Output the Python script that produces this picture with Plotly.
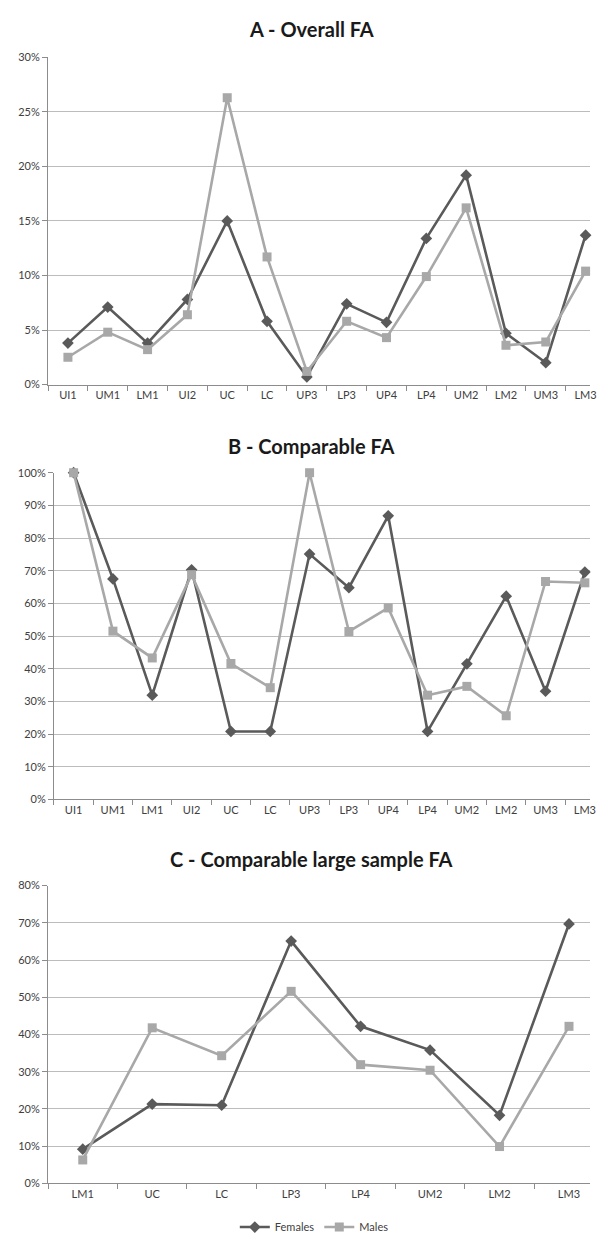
import plotly.graph_objects as go

# ---------------- data ----------------
cats_ab = ["UI1", "UM1", "LM1", "UI2", "UC", "LC", "UP3", "LP3", "UP4", "LP4", "UM2", "LM2", "UM3", "LM3"]
a_females = [0.038, 0.071, 0.038, 0.078, 0.150, 0.058, 0.007, 0.074, 0.057, 0.134, 0.192, 0.047, 0.020, 0.137]
a_males = [0.025, 0.048, 0.032, 0.064, 0.263, 0.117, 0.012, 0.058, 0.043, 0.099, 0.162, 0.036, 0.039, 0.104]

b_females = [1.00, 0.675, 0.319, 0.703, 0.208, 0.208, 0.751, 0.648, 0.868, 0.208, 0.415, 0.622, 0.331, 0.696]
b_males = [1.00, 0.515, 0.433, 0.688, 0.416, 0.342, 1.00, 0.514, 0.586, 0.319, 0.346, 0.256, 0.667, 0.663]

cats_c = ["LM1", "UC", "LC", "LP3", "LP4", "UM2", "LM2", "LM3"]
c_females = [0.092, 0.213, 0.210, 0.651, 0.422, 0.358, 0.183, 0.697]
c_males = [0.063, 0.418, 0.343, 0.516, 0.319, 0.304, 0.099, 0.422]

titles = ["A - Overall FA", "B - Comparable FA", "C - Comparable large sample FA"]
series_names = ["Females", "Males"]

# ---------------- style ----------------
PAGE_W, PAGE_H = 605, 1250
OFF = 8  # default body margin of the html page
W, H = PAGE_W - 2 * OFF, PAGE_H - 2 * OFF
FEM_COLOR = "#5a5a5a"
MAL_COLOR = "#a8a8a8"
GRID = "#bcbcbc"
AXIS = "#8c8c8c"
TXT = "#404040"
FONT = "Lato"


def px_x(px):
    return (px - OFF) / W


def px_y(px):
    return 1 - (px - OFF) / H


fig = go.Figure()

panels = [
    # (cats, females, males, y range, dtick, x0 px, spacing px, ytop px, ybot px, title y px)
    (cats_ab, a_females, a_males, [0, 0.30], 0.05, 48.5, 40.3, 51, 383, 22),
    (cats_ab, b_females, b_males, [0, 1.0], 0.10, 54.5, 39.8, 472.5, 804, 445),
    (cats_c, c_females, c_males, [0, 0.80], 0.10, 48.5, 70.3, 891.5, 1193.7, 865),
]

for i, (cats, fem, mal, yr, dt, x0, sp, ytop, ybot, ty) in enumerate(panels):
    n = i + 1
    xa = "x" if n == 1 else f"x{n}"
    ya = "y" if n == 1 else f"y{n}"
    fig.add_trace(go.Scatter(
        x=cats, y=fem, mode="lines+markers", name=series_names[0],
        line=dict(color=FEM_COLOR, width=2.6),
        marker=dict(symbol="diamond", size=9, color=FEM_COLOR),
        xaxis=xa, yaxis=ya, showlegend=(n == 3), cliponaxis=False,
    ))
    fig.add_trace(go.Scatter(
        x=cats, y=mal, mode="lines+markers", name=series_names[1],
        line=dict(color=MAL_COLOR, width=2.6),
        marker=dict(symbol="square", size=9, color=MAL_COLOR),
        xaxis=xa, yaxis=ya, showlegend=(n == 3), cliponaxis=False,
    ))
    xr_end = -0.5 + (PAGE_W - OFF - x0) / sp
    xkey = "xaxis" if n == 1 else f"xaxis{n}"
    ykey = "yaxis" if n == 1 else f"yaxis{n}"
    fig.layout[xkey] = dict(
        domain=[px_x(x0), 1], anchor=ya, type="category",
        categoryorder="array", categoryarray=cats,
        range=[-0.5, xr_end], showgrid=False, showline=True,
        linecolor=AXIS, linewidth=1, ticks="outside", ticklen=5,
        tickcolor=AXIS, tickson="boundaries",
        tickfont=dict(family=FONT, size=11, color=TXT), zeroline=False,
        fixedrange=True,
    )
    fig.layout[ykey] = dict(
        domain=[px_y(ybot), px_y(ytop)], anchor=xa, range=yr, dtick=dt,
        tickformat=".0%", showgrid=True, gridcolor=GRID, gridwidth=1,
        showline=True, linecolor=AXIS, linewidth=1, ticks="outside",
        ticklen=5, tickcolor=AXIS, zeroline=False,
        tickfont=dict(family=FONT, size=11, color=TXT), fixedrange=True,
    )
    fig.add_annotation(
        text=f"<b>{titles[i]}</b>", x=px_x(315), y=px_y(ty), xref="paper", yref="paper",
        xanchor="center", yanchor="middle", showarrow=False,
        font=dict(family=FONT, size=20, color="#1a1a1a"),
    )

fig.update_layout(
    width=W, height=H,
    margin=dict(l=0, r=0, t=0, b=0),
    paper_bgcolor="white", plot_bgcolor="white",
    legend=dict(
        orientation="h", x=px_x(318), xanchor="center", y=px_y(1238), yanchor="middle",
        font=dict(family=FONT, size=11, color=TXT), itemwidth=30,
        traceorder="normal",
    ),
    showlegend=True,
)

fig.write_html("out.html")
